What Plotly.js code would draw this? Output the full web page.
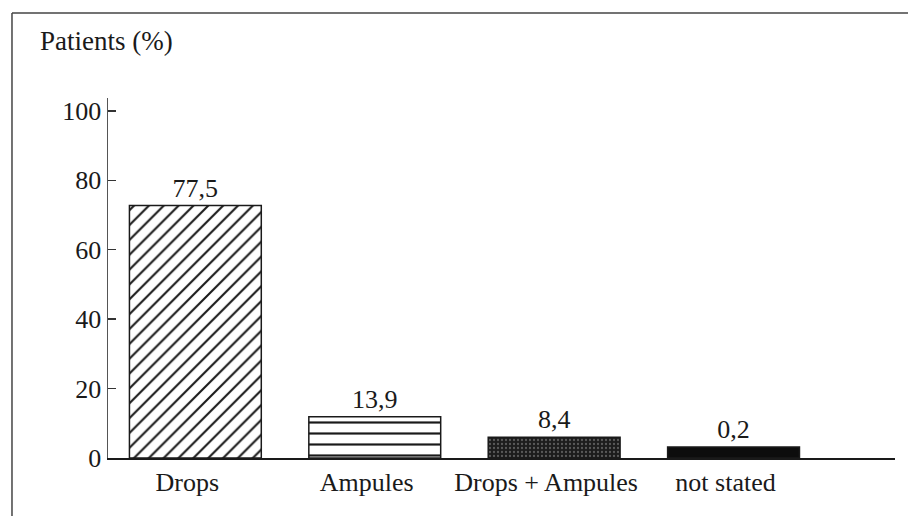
<!DOCTYPE html>
<html>
<head>
<meta charset="utf-8">
<script src="https://cdn.plot.ly/plotly-3.0.1.min.js"></script>
<style>
  html, body { margin:0; padding:0; background:#fff; }
  #chart { width:910px; height:516px; }
</style>
</head>
<body>
<div id="chart"></div>
<script>
// Patients (%) by form of administration
const categories  = ['Drops', 'Ampules', 'Drops + Ampules', 'not stated'];
const barHeights  = [72.7, 11.9, 6.0, 3.2];          // heights as drawn in the figure
const valueLabels = ['77,5', '13,9', '8,4', '0,2'];   // printed values
const yTicks      = [0, 20, 40, 60, 80, 100];

(function(){
  const serif = 'Liberation Serif';
  const ink = '#1a1a1a';

  // one fill style per bar
  const fills = [
    { color: '#ffffff', pattern: { shape: '/', fgcolor: ink, bgcolor: '#ffffff', size: 10.5, solidity: 0.2, fillmode: 'replace' } },
    { color: '#ffffff', pattern: { shape: '-', fgcolor: ink, bgcolor: '#ffffff', size: 11, solidity: 0.2, fillmode: 'replace' } },
    { color: '#222222', pattern: { shape: '.', fgcolor: '#5a5a5a', bgcolor: '#1c1c1c', size: 4, solidity: 0.25, fillmode: 'replace' } },
    { color: '#0d0d0d' }
  ];

  const traces = categories.map((c, i) => ({
    type: 'bar',
    x: [c],
    y: [barHeights[i]],
    width: 0.735,
    text: [valueLabels[i]],
    textposition: 'outside',
    constraintext: 'none',
    cliponaxis: false,
    textfont: { family: serif, size: 26, color: ink },
    marker: Object.assign({ line: { color: ink, width: 1.5 } }, fills[i])
  }));

  // plot area in pixels: x 108..895, y 98..458
  const layout = {
    width: 910, height: 516,
    paper_bgcolor: '#fff', plot_bgcolor: '#fff',
    margin: { l: 108, r: 15, t: 98, b: 58 },
    showlegend: false,
    barmode: 'overlay',
    font: { family: serif, color: ink },
    xaxis: {
      type: 'category',
      categoryorder: 'array', categoryarray: categories,
      range: [-0.487, 3.9],
      showline: true, linecolor: ink, linewidth: 1.5,
      ticks: '', showgrid: false, zeroline: false,
      ticklabelshift: -8,
      tickfont: { family: serif, size: 26, color: ink }
    },
    yaxis: {
      range: [0, 103.7],
      tickvals: yTicks,
      ticks: 'inside', ticklen: 8, tickwidth: 1.5, tickcolor: '#333',
      showline: true, linecolor: '#555', linewidth: 1.5,
      showgrid: false, zeroline: false,
      tickfont: { family: serif, size: 26, color: ink }
    },
    annotations: [
      { text: 'Patients (%)', xref: 'paper', yref: 'paper',
        x: -0.089, y: 1.158, xanchor: 'left', yanchor: 'middle',
        showarrow: false, font: { family: serif, size: 27, color: ink } }
    ],
    shapes: [
      // frame: top and left edges
      { type: 'line', xref: 'paper', yref: 'paper', x0: -0.122, x1: 1.0165, y0: 1.236, y1: 1.236,
        line: { color: '#444', width: 1.5 } },
      { type: 'line', xref: 'paper', yref: 'paper', x0: -0.122, x1: -0.122, y0: 1.236, y1: -0.17,
        line: { color: '#444', width: 1.5 } }
    ]
  };

  Plotly.newPlot('chart', traces, layout, { displayModeBar: false, staticPlot: true });
})();
</script>
</body>
</html>
